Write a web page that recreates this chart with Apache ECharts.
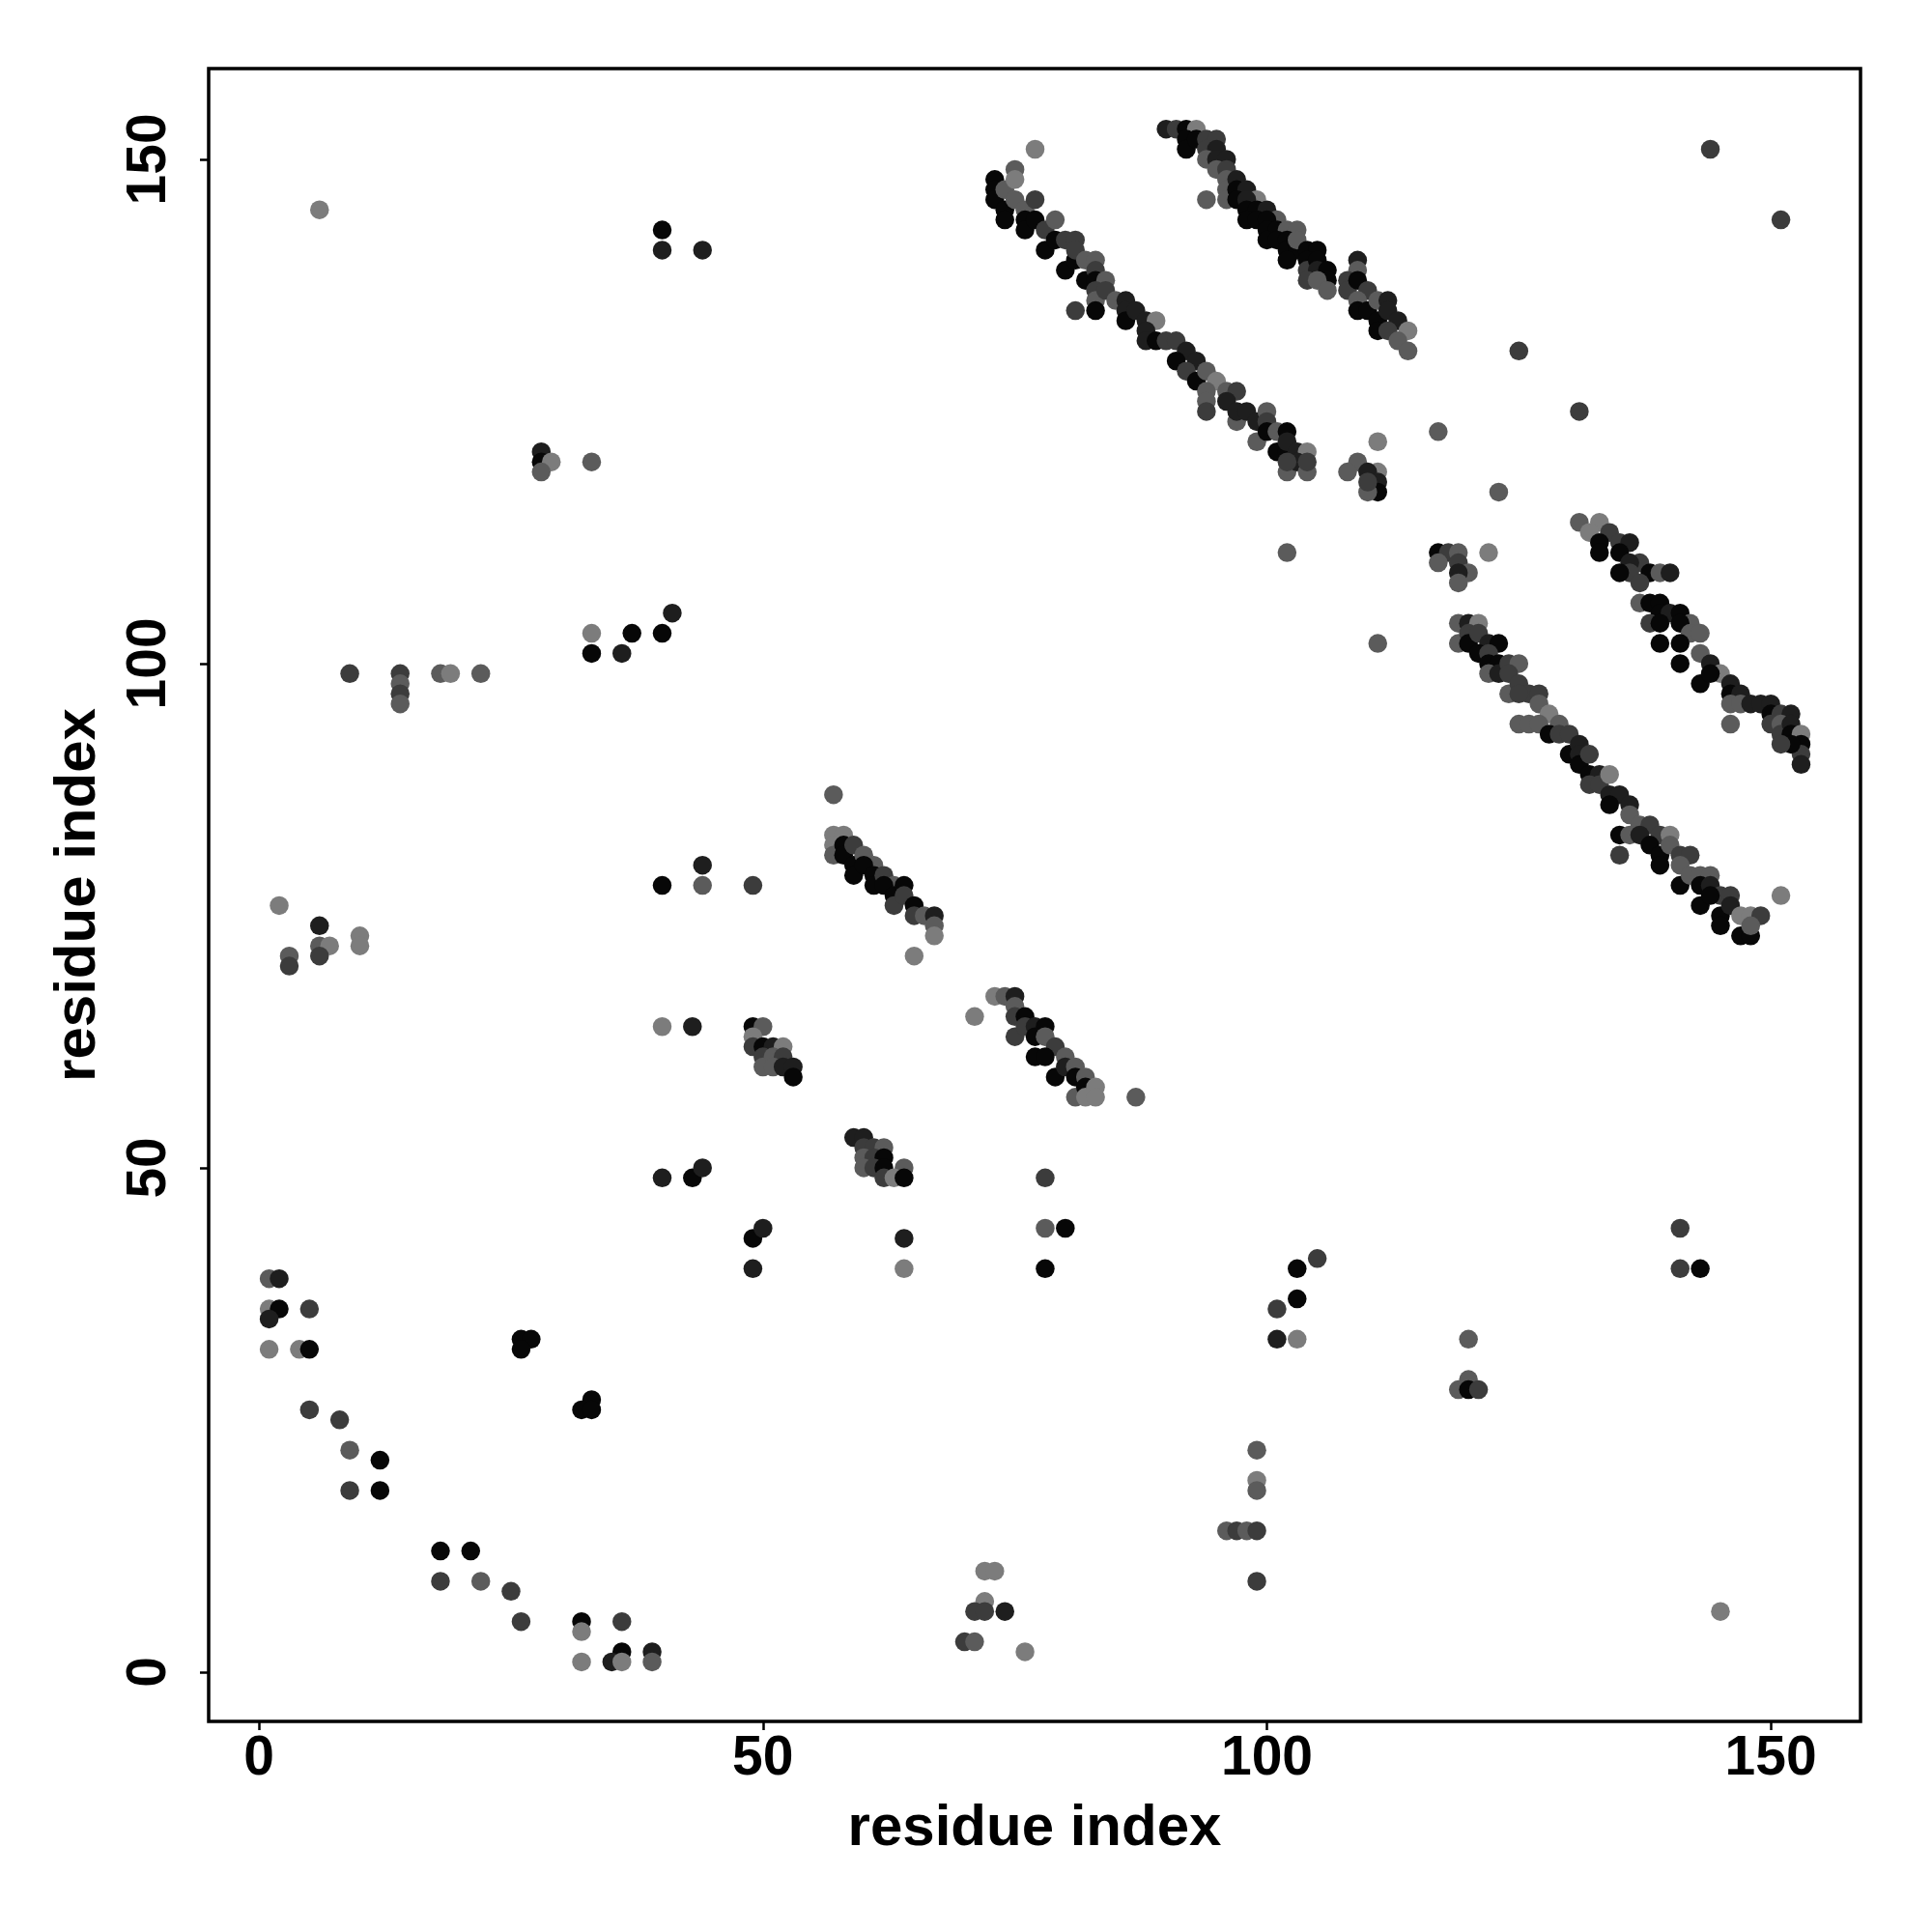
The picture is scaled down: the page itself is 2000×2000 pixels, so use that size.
<!DOCTYPE html>
<html><head><meta charset="utf-8">
<script src="https://cdn.jsdelivr.net/npm/echarts@6/dist/echarts.min.js"></script>
<style>html,body{margin:0;padding:0;background:#fff}#c{width:2000px;height:2000px}</style>
</head><body><div id="c"></div><script>
// tick labels
const xTicks = [0, 50, 100, 150];
const yTicks = [0, 50, 100, 150];
// grey level index -> colour (0 darkest .. 4 lightest)
const shadePalette = ['#070707', '#1e1e1e', '#3c3c3c', '#5b5b5b', '#7c7c7c'];

// contacts: [residue i, residue j, grey level]
const arcLow = [[1,39,3],[2,39,1],[1,36,4],[2,36,0],[1,35,1],[5,36,2],[1,32,4],[4,32,4],[5,32,0],[5,26,2],[8,25,2],[9,22,3],[12,21,0],[9,18,2],[12,18,0],[18,12,0],[21,12,0],[18,9,2],[22,9,3],[25,8,2],[26,5,2],[32,5,0],[32,4,4],[36,5,2],[36,2,0],[35,1,1],[36,1,4],[32,1,4],[39,2,1],[39,1,3]];
const midLow = [[26,33,0],[27,33,0],[26,32,0],[33,27,0],[32,26,0],[33,26,0],[49,43,0],[50,44,1],[49,40,1],[64,43,1],[64,40,4],[78,44,3],[80,44,0],[78,40,0],[40,49,1],[43,49,0],[44,50,1],[78,49,2]];
const bandE = [[59,53,1],[60,53,1],[60,52,2],[61,52,2],[62,52,3],[60,51,3],[61,51,2],[62,51,0],[60,50,3],[61,50,2],[62,50,0],[64,50,3],[62,49,2],[63,49,4],[64,49,0]];
const lowRight = [[105,41,2],[103,40,0],[103,37,0],[101,36,2],[101,33,1],[103,33,4],[99,22,3],[99,19,4],[99,18,3],[96,14,3],[97,14,2],[98,14,3],[99,14,2],[99,9,2],[72,10,4],[73,10,4],[72,7,4],[71,6,2],[72,6,2],[74,6,1],[70,3,2],[71,3,3],[76,2,4],[141,44,2],[141,40,2],[143,40,0],[120,33,3],[120,29,3],[119,28,3],[120,28,0],[121,28,2],[145,6,4]];
const midLeft = [[40,64,4],[43,64,1],[49,64,0],[50,64,3],[49,63,4],[49,62,2],[50,62,0],[51,62,1],[52,62,4],[50,61,2],[51,61,3],[52,61,2],[50,60,3],[51,60,3],[52,60,1],[53,60,1],[53,59,0],[2,76,4],[6,74,1],[6,72,3],[7,72,4],[6,71,2],[3,71,3],[3,70,2],[10,73,4],[10,72,4],[44,80,1],[40,78,0],[44,78,3],[49,78,2]];
const upLeft = [[9,99,2],[14,99,2],[14,98,3],[14,97,2],[14,96,3],[18,99,3],[19,99,4],[22,99,3],[33,103,4],[37,103,0],[40,103,0],[33,101,0],[36,101,1],[41,105,1],[28,121,1],[28,120,0],[29,120,4],[28,119,3],[33,120,3],[6,145,4],[40,143,0],[40,141,1],[44,141,1]];
const bandC = [[57,87,3],[57,83,4],[58,83,4],[57,82,4],[57,81,3],[58,82,0],[58,81,0],[59,82,2],[59,80,0],[59,79,0],[60,81,3],[61,80,3],[60,80,0],[61,79,0],[61,78,0],[62,79,2],[63,78,3],[62,78,0],[63,77,0],[63,76,2],[64,78,0],[64,77,2],[65,76,0],[65,75,2],[66,75,3],[67,75,1],[67,74,3],[67,73,4],[65,71,4]];
const bandD = [[71,65,4],[73,67,4],[74,67,3],[75,67,1],[75,66,3],[75,65,2],[76,65,0],[75,63,2],[76,64,2],[77,64,1],[78,64,0],[77,63,0],[77,61,0],[78,63,3],[79,62,2],[78,61,0],[80,61,3],[79,59,0],[80,60,1],[81,60,3],[81,59,0],[82,59,3],[81,57,3],[82,58,0],[82,57,4],[83,58,4],[83,57,4],[87,57,3]];
const bandA = [[77,151,4],[75,149,3],[73,148,0],[73,147,0],[73,146,0],[74,147,3],[75,148,4],[74,145,0],[74,144,0],[75,146,3],[76,145,3],[77,146,2],[76,144,0],[76,143,0],[77,144,0],[78,143,2],[79,144,3],[78,141,0],[79,142,0],[80,142,2],[81,142,2],[80,139,0],[81,140,0],[81,141,2],[82,140,3],[83,140,3],[82,138,0],[83,139,2],[83,138,0],[84,138,3],[83,137,2],[83,136,3],[84,137,2],[81,135,2],[83,135,0],[85,136,3],[86,136,1],[86,135,1],[86,134,0],[87,135,1],[88,134,1],[89,134,4],[88,133,1],[88,132,1],[89,132,0],[90,132,2],[91,132,2],[92,131,1],[91,130,0],[93,130,1],[92,129,2],[93,128,0],[94,129,3],[95,128,4],[94,127,3],[94,126,3],[94,125,2],[96,127,3],[97,127,2],[96,126,1],[97,124,3],[97,125,1],[98,125,1],[99,124,1],[100,125,3],[99,122,3],[100,124,2],[100,123,0],[101,123,3],[102,123,0],[101,121,0],[102,121,0],[102,122,1],[102,119,3],[103,121,1],[104,121,4],[103,120,1],[104,119,3],[104,120,2],[102,120,2]];
const bandB = [[90,153,1],[91,153,2],[92,153,0],[93,153,4],[92,152,0],[92,151,0],[93,152,0],[94,152,2],[95,152,2],[94,151,2],[95,151,1],[94,150,3],[95,150,1],[96,150,1],[95,149,3],[96,149,2],[96,148,3],[96,147,3],[96,146,3],[94,146,3],[97,148,1],[97,147,0],[98,147,1],[99,146,4],[97,146,0],[98,146,1],[98,145,0],[99,145,0],[98,144,0],[100,145,1],[101,144,3],[99,144,0],[100,144,0],[100,143,0],[101,143,0],[100,142,0],[102,143,3],[103,143,3],[101,142,0],[102,142,0],[102,141,0],[103,141,0],[102,140,0],[103,142,3],[104,141,0],[105,141,0],[104,140,0],[104,139,2],[105,140,0],[105,139,1],[106,139,0],[106,138,0],[104,138,2],[105,138,3],[106,137,3],[109,140,1],[109,139,3],[108,138,2],[108,137,2],[109,138,0],[110,137,2],[109,136,3],[109,135,0],[110,135,0],[111,136,3],[112,136,1],[111,134,0],[112,135,1],[113,134,1],[111,133,0],[112,133,2],[114,133,4],[113,132,3],[114,131,3]];
const upRight = [[144,151,2],[151,144,2],[125,131,2],[131,125,2],[117,123,3],[123,117,3],[122,111,4],[102,111,3],[111,102,3],[111,122,4],[109,120,3],[108,119,3],[111,119,4],[110,119,1],[111,118,1],[111,117,0],[110,117,3],[110,118,2],[117,111,0],[118,111,2],[119,111,3],[117,110,3],[119,110,2],[120,109,3],[119,109,1],[119,108,3]];
const bandF = [[119,104,3],[120,104,1],[121,104,4],[119,102,3],[120,103,2],[120,102,0],[121,103,2],[122,102,1],[123,102,0],[121,101,0],[122,101,2],[122,100,0],[123,100,0],[122,99,3],[123,99,1],[124,100,2],[125,100,3],[124,99,2],[124,97,3],[125,98,2],[126,97,2],[127,97,2],[125,97,2],[127,96,3],[128,95,4],[125,94,3],[126,94,3],[127,94,3],[129,94,3],[128,93,0],[129,93,2],[130,93,2],[130,91,0],[131,92,1],[131,91,1],[131,90,0],[132,91,2],[132,89,0],[133,89,1],[132,88,2],[133,88,2],[134,89,4],[134,87,1],[135,87,1],[134,86,0],[136,86,1],[136,85,3],[137,84,3],[138,84,2],[135,83,0],[136,83,3],[137,83,1],[135,81,2],[139,83,2],[140,83,4],[138,82,0],[139,81,0],[140,82,3],[139,80,0],[141,81,2],[142,81,2],[141,80,3],[141,78,0],[142,79,3],[143,79,3],[144,79,3],[143,78,0],[143,76,0],[144,78,1],[145,77,2],[144,77,0],[146,77,2],[145,75,0],[145,74,0],[146,76,1],[147,75,4],[148,75,4],[149,75,2],[147,73,0],[148,73,0],[148,74,3],[151,77,4]];
const bandG = [[131,114,3],[133,114,4],[132,113,4],[134,113,2],[133,112,0],[133,111,0],[135,112,2],[136,112,1],[135,111,0],[137,110,2],[136,110,1],[136,109,2],[135,109,0],[138,109,0],[139,109,3],[140,109,1],[137,108,2],[137,106,3],[138,106,0],[139,106,0],[139,105,0],[140,105,1],[141,105,0],[142,104,3],[138,104,2],[139,104,0],[141,104,0],[142,103,3],[143,103,3],[139,102,0],[141,102,0],[141,100,0],[143,101,3],[144,100,1],[145,99,4],[143,98,0],[144,99,0],[146,98,1],[146,97,0],[147,97,1],[146,96,3],[147,96,3],[148,96,1],[149,96,1],[150,96,1],[146,94,3],[150,95,0],[151,95,2],[152,95,1],[150,94,2],[151,94,3],[151,93,2],[152,94,1],[152,93,0],[153,93,4],[153,92,0],[153,91,2],[153,90,1],[152,92,0],[151,92,2]];

const contacts = [].concat(arcLow, midLow, bandE, lowRight, midLeft, upLeft, bandC, bandD, bandA, bandB, upRight, bandF, bandG);

const font = 'Liberation Sans, Arial, Helvetica, sans-serif';
const chart = echarts.init(document.getElementById('c'), null, {renderer: 'canvas'});
chart.setOption({
  animation: false,
  backgroundColor: '#ffffff',
  grid: {left: 216, top: 71, width: 1710, height: 1711, show: true, borderColor: '#000', borderWidth: 3.5, backgroundColor: 'transparent'},
  xAxis: {
    type: 'value', min: -5, max: 158.9,
    name: 'residue index', nameLocation: 'middle', nameGap: 81,
    nameTextStyle: {fontFamily: font, fontWeight: 'bold', fontSize: 60, color: '#000'},
    axisLine: {show: false, onZero: false},
    axisTick: {show: true, length: 9, lineStyle: {color: '#000', width: 2.5}, customValues: xTicks},
    axisLabel: {customValues: xTicks, margin: 11, fontFamily: font, fontWeight: 'bold', fontSize: 57, color: '#000'},
    splitLine: {show: false}
  },
  yAxis: {
    type: 'value', min: -4.9, max: 159.0,
    name: 'residue index', nameLocation: 'middle', nameGap: 105, nameRotate: 90,
    nameTextStyle: {fontFamily: font, fontWeight: 'bold', fontSize: 60, color: '#000'},
    axisLine: {show: false, onZero: false},
    axisTick: {show: true, length: 9, lineStyle: {color: '#000', width: 2.5}, customValues: yTicks},
    axisLabel: {customValues: yTicks, rotate: 90, margin: 32, fontFamily: font, fontWeight: 'bold', fontSize: 57, color: '#000'},
    splitLine: {show: false}
  },
  series: [{
    type: 'scatter', data: contacts, symbol: 'circle', symbolSize: 19.5, silent: true,
    itemStyle: {color: p => shadePalette[p.data[2]], opacity: 1, borderWidth: 0}
  }]
});
</script></body></html>
